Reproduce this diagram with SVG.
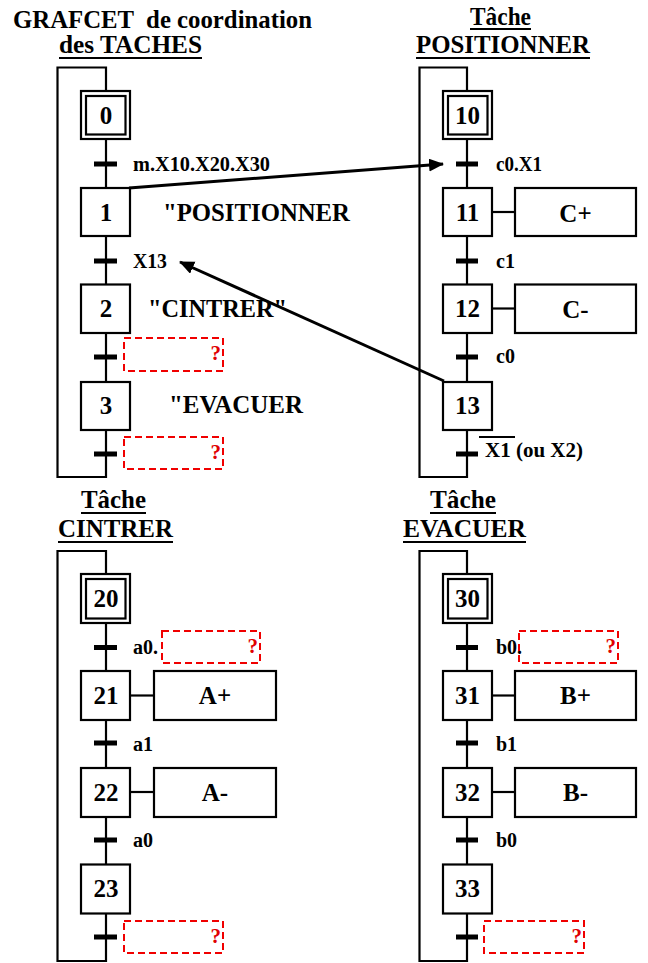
<svg xmlns="http://www.w3.org/2000/svg" width="648" height="963" viewBox="0 0 648 963">
<style>
text{font-family:"Liberation Serif","Times New Roman",serif;font-weight:bold;fill:#000}
.title{font-size:25px}
.num{font-size:25px;text-anchor:middle}
.act{font-size:25px;text-anchor:middle}
.lbl{font-size:20px}
.q{font-size:21px;fill:#e00000;text-anchor:end}
.box{fill:#fff;stroke:#000;stroke-width:2.2}
.ln{fill:none;stroke:#000;stroke-width:2.2}
.ul{stroke:#000;stroke-width:2}
.bar{fill:#000}
.dash{fill:none;stroke:#f00000;stroke-width:2;stroke-dasharray:7,4}
.arr{fill:none;stroke:#000;stroke-width:3}
</style>
<defs>
<marker id="ah" markerUnits="userSpaceOnUse" markerWidth="16" markerHeight="14" refX="14" refY="6.5" orient="auto">
<path d="M0,0 L15,6.5 L0,13 z" fill="#000"/>
</marker>
</defs>

<g id="titles">
<text class="title" x="13" y="28" xml:space="preserve" textLength="299" lengthAdjust="spacingAndGlyphs">GRAFCET  de coordination</text>
<text class="title" x="59" y="53" textLength="143" lengthAdjust="spacingAndGlyphs">des TACHES</text>
<line class="ul" x1="59" y1="58" x2="202" y2="58"/>
<text class="title" x="470" y="25" textLength="61" lengthAdjust="spacingAndGlyphs">Tâche</text>
<line class="ul" x1="470" y1="29" x2="531" y2="29"/>
<text class="title" x="416" y="53" textLength="174" lengthAdjust="spacingAndGlyphs">POSITIONNER</text>
<line class="ul" x1="416" y1="58" x2="590" y2="58"/>
<text class="title" x="81" y="508" textLength="65" lengthAdjust="spacingAndGlyphs">Tâche</text>
<line class="ul" x1="81" y1="513" x2="146" y2="513"/>
<text class="title" x="58" y="537" textLength="115" lengthAdjust="spacingAndGlyphs">CINTRER</text>
<line class="ul" x1="58" y1="542" x2="173" y2="542"/>
<text class="title" x="430" y="508" textLength="66" lengthAdjust="spacingAndGlyphs">Tâche</text>
<line class="ul" x1="430" y1="513" x2="496" y2="513"/>
<text class="title" x="403" y="537" textLength="123" lengthAdjust="spacingAndGlyphs">EVACUER</text>
<line class="ul" x1="403" y1="542" x2="526" y2="542"/>
</g>

<g id="connectors">
<!-- coordination grafcet -->
<polyline class="ln" points="106,91 106,67.5 57.5,67.5 57.5,477 106,477 106,430"/>
<line class="ln" x1="106" y1="139" x2="106" y2="188"/>
<line class="ln" x1="106" y1="236" x2="106" y2="284"/>
<line class="ln" x1="106" y1="333" x2="106" y2="382"/>
<rect class="bar" x="94" y="161.5" width="23" height="5"/>
<rect class="bar" x="94" y="258.5" width="23" height="5"/>
<rect class="bar" x="94" y="354.5" width="23" height="5"/>
<rect class="bar" x="94" y="451.5" width="23" height="5"/>
<!-- positionner -->
<polyline class="ln" points="467,91 467,67.5 419.5,67.5 419.5,477 467,477 467,430"/>
<line class="ln" x1="467" y1="139" x2="467" y2="188"/>
<line class="ln" x1="467" y1="236" x2="467" y2="284"/>
<line class="ln" x1="467" y1="333" x2="467" y2="382"/>
<rect class="bar" x="456" y="161.5" width="22" height="5"/>
<rect class="bar" x="456" y="258.5" width="22" height="5"/>
<rect class="bar" x="456" y="354.5" width="22" height="5"/>
<rect class="bar" x="456" y="451.5" width="22" height="5"/>
<line class="ln" x1="492" y1="212" x2="515" y2="212"/>
<line class="ln" x1="492" y1="308.5" x2="515" y2="308.5"/>
<!-- cintrer -->
<polyline class="ln" points="106,574 106,551 57.5,551 57.5,961 106,961 106,913"/>
<line class="ln" x1="106" y1="623" x2="106" y2="671"/>
<line class="ln" x1="106" y1="720" x2="106" y2="768"/>
<line class="ln" x1="106" y1="817" x2="106" y2="864"/>
<rect class="bar" x="94" y="645" width="23" height="5"/>
<rect class="bar" x="94" y="740.5" width="23" height="5"/>
<rect class="bar" x="94" y="837.5" width="23" height="5"/>
<rect class="bar" x="94" y="934.5" width="23" height="5"/>
<line class="ln" x1="130" y1="695.5" x2="154" y2="695.5"/>
<line class="ln" x1="130" y1="792" x2="154" y2="792"/>
<!-- evacuer -->
<polyline class="ln" points="467,574 467,551 419.5,551 419.5,961 467,961 467,913"/>
<line class="ln" x1="467" y1="623" x2="467" y2="671"/>
<line class="ln" x1="467" y1="720" x2="467" y2="768"/>
<line class="ln" x1="467" y1="817" x2="467" y2="864"/>
<rect class="bar" x="456" y="645" width="22" height="5"/>
<rect class="bar" x="456" y="740.5" width="22" height="5"/>
<rect class="bar" x="456" y="837.5" width="22" height="5"/>
<rect class="bar" x="456" y="934.5" width="22" height="5"/>
<line class="ln" x1="492" y1="695.5" x2="515" y2="695.5"/>
<line class="ln" x1="492" y1="792" x2="515" y2="792"/>
<!-- synchronisation arrows -->
<line class="arr" x1="129" y1="188" x2="443" y2="164" marker-end="url(#ah)"/>
<line class="arr" x1="444" y1="381" x2="180" y2="262" marker-end="url(#ah)"/>
</g>

<g id="labels">
<text class="lbl" x="133" y="170.5" textLength="137" lengthAdjust="spacingAndGlyphs">m.X10.X20.X30</text>
<text class="lbl" x="133" y="267.5" textLength="34" lengthAdjust="spacingAndGlyphs">X13</text>
<text class="lbl" x="496" y="170.5" textLength="46" lengthAdjust="spacingAndGlyphs">c0.X1</text>
<text class="lbl" x="496" y="267.5">c1</text>
<text class="lbl" x="496" y="363">c0</text>
<line class="ul" x1="479" y1="437" x2="515" y2="437"/>
<text class="lbl" x="485" y="457" textLength="98" lengthAdjust="spacingAndGlyphs">X1 (ou X2)</text>
<text class="lbl" x="133" y="654">a0.</text>
<text class="lbl" x="133" y="750.5">a1</text>
<text class="lbl" x="133" y="847">a0</text>
<text class="lbl" x="496" y="654">b0.</text>
<text class="lbl" x="496" y="750.5">b1</text>
<text class="lbl" x="496" y="847">b0</text>
<text class="title" x="163" y="221" textLength="187" lengthAdjust="spacingAndGlyphs">"POSITIONNER</text>
<text class="title" x="148" y="317" textLength="139" lengthAdjust="spacingAndGlyphs">"CINTRER"</text>
<text class="title" x="169" y="413" textLength="134" lengthAdjust="spacingAndGlyphs">"EVACUER</text>
</g>

<g id="missing">
<rect class="dash" x="124" y="338" width="99" height="33"/>
<text class="q" x="221" y="360">?</text>
<rect class="dash" x="124" y="437" width="99" height="32"/>
<text class="q" x="221" y="459">?</text>
<rect class="dash" x="162" y="631" width="98" height="32"/>
<text class="q" x="258" y="653">?</text>
<rect class="dash" x="124" y="921" width="99" height="32"/>
<text class="q" x="221" y="943">?</text>
<rect class="dash" x="519" y="631" width="99" height="32"/>
<text class="q" x="616" y="653">?</text>
<rect class="dash" x="484" y="921" width="100" height="32"/>
<text class="q" x="582" y="943">?</text>
</g>

<g id="step0"><rect class="box" x="81" y="91" width="49" height="48"/><rect class="box" x="86" y="96" width="39.5" height="38.5"/><text class="num" x="106" y="124">0</text></g>
<g id="step1"><rect class="box" x="81" y="188" width="49" height="48"/><text class="num" x="106" y="221">1</text></g>
<g id="step2"><rect class="box" x="81" y="284.5" width="49" height="48.5"/><text class="num" x="106" y="317">2</text></g>
<g id="step3"><rect class="box" x="81" y="382" width="49" height="48"/><text class="num" x="106" y="414">3</text></g>

<g id="step10"><rect class="box" x="443" y="91" width="49" height="48"/><rect class="box" x="448" y="96" width="39.5" height="38.5"/><text class="num" x="467.5" y="124">10</text></g>
<g id="step11"><rect class="box" x="443" y="188" width="49" height="48"/><text class="num" x="467.5" y="221">11</text></g>
<g id="act11"><rect class="box" x="515" y="188" width="121" height="48"/><text class="act" x="575.5" y="221.5">C+</text></g>
<g id="step12"><rect class="box" x="443" y="284.5" width="49" height="48.5"/><text class="num" x="467.5" y="317">12</text></g>
<g id="act12"><rect class="box" x="515" y="284.5" width="121" height="48.5"/><text class="act" x="575.5" y="317.5">C-</text></g>
<g id="step13"><rect class="box" x="443" y="382" width="49" height="48"/><text class="num" x="467.5" y="414">13</text></g>

<g id="step20"><rect class="box" x="81" y="574" width="49" height="49"/><rect class="box" x="86" y="579" width="39.5" height="39.5"/><text class="num" x="106" y="607">20</text></g>
<g id="step21"><rect class="box" x="81" y="671" width="49" height="49"/><text class="num" x="106" y="704">21</text></g>
<g id="act21"><rect class="box" x="154" y="671" width="122" height="49"/><text class="act" x="215" y="704">A+</text></g>
<g id="step22"><rect class="box" x="81" y="768" width="49" height="49"/><text class="num" x="106" y="801">22</text></g>
<g id="act22"><rect class="box" x="154" y="768" width="122" height="49"/><text class="act" x="215" y="801">A-</text></g>
<g id="step23"><rect class="box" x="81" y="864.5" width="49" height="49"/><text class="num" x="106" y="897">23</text></g>

<g id="step30"><rect class="box" x="443" y="574" width="49" height="49"/><rect class="box" x="448" y="579" width="39.5" height="39.5"/><text class="num" x="467.5" y="607">30</text></g>
<g id="step31"><rect class="box" x="443" y="671" width="49" height="49"/><text class="num" x="467.5" y="704">31</text></g>
<g id="act31"><rect class="box" x="515" y="671" width="121" height="49"/><text class="act" x="575.5" y="704">B+</text></g>
<g id="step32"><rect class="box" x="443" y="768" width="49" height="49"/><text class="num" x="467.5" y="801">32</text></g>
<g id="act32"><rect class="box" x="515" y="768" width="121" height="49"/><text class="act" x="575.5" y="801">B-</text></g>
<g id="step33"><rect class="box" x="443" y="864.5" width="49" height="49"/><text class="num" x="467.5" y="897">33</text></g>
</svg>
